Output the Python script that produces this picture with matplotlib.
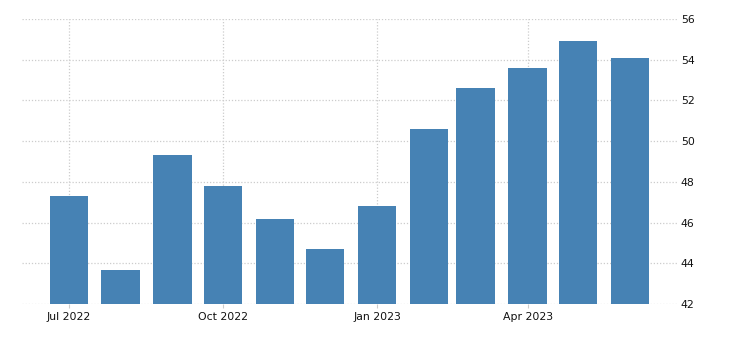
import datetime as dt
import matplotlib.pyplot as plt
import matplotlib.dates as mdates

months = ["2022-07", "2022-08", "2022-09", "2022-10", "2022-11", "2022-12",
          "2023-01", "2023-02", "2023-03", "2023-04", "2023-05", "2023-06"]
values = [47.3, 43.7, 49.3, 47.8, 46.2, 44.7, 46.8, 50.6, 52.6, 53.6, 54.9, 54.1]
y_ticks = [42, 44, 46, 48, 50, 52, 54, 56]
x_ticks = ["2022-07", "2022-10", "2023-01", "2023-04"]

BAR_COLOR = "#4682b4"
GRID_COLOR = "#cccccc"


def to_date(s):
    return dt.datetime.strptime(s, "%Y-%m")


dates = [to_date(m) for m in months]

fig = plt.figure(figsize=(7.3, 3.5), dpi=100)
ax = fig.add_axes([0.030, 0.131, 0.897, 0.815])

ax.bar(dates, values, width=23, color=BAR_COLOR, zorder=2)

ax.set_ylim(42, 56)
ax.set_yticks(y_ticks)
ax.set_xlim(to_date("2022-06") + dt.timedelta(days=2), to_date("2023-06") + dt.timedelta(days=28))
ax.set_xticks([to_date(t) for t in x_ticks])
ax.xaxis.set_major_formatter(mdates.DateFormatter("%b %Y"))

ax.yaxis.tick_right()
ax.grid(True, color=GRID_COLOR, linestyle=(0, (1, 1.5)), linewidth=0.9, zorder=0)

for side in ["top", "right", "left", "bottom"]:
    ax.spines[side].set_visible(False)

ax.tick_params(axis="y", length=0, pad=3, labelsize=7.8, labelcolor="#111111")
ax.tick_params(axis="x", length=3, color=GRID_COLOR, pad=3, labelsize=7.8,
               labelcolor="#111111")
for lbl in ax.get_yticklabels():
    lbl.set_horizontalalignment("left")

fig.savefig("out.png", dpi=100)
